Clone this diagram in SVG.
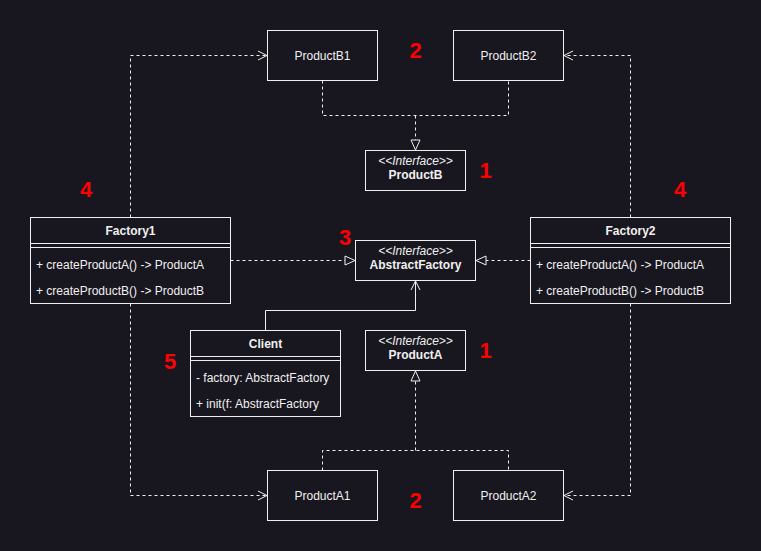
<svg xmlns="http://www.w3.org/2000/svg" width="761" height="551" viewBox="0 0 761 551">
  <defs>
    <style>
      .box { fill: #18161f; stroke: #f0f0f0; stroke-width: 1; }
      .sep { stroke: #f0f0f0; stroke-width: 1; fill: none; }
      .txt { font-family: "Liberation Sans", Arial, sans-serif; font-size: 12px; fill: #f0f0f0; }
      .c { text-anchor: middle; }
      .b { font-weight: bold; }
      .i { font-style: italic; font-size: 12px; }
      .num { font-family: "Liberation Sans", Arial, sans-serif; font-size: 22px; font-weight: bold; fill: #ff0000; text-anchor: middle; }
      .dash { fill: none; stroke: #f0f0f0; stroke-width: 1; stroke-dasharray: 3 3; }
      .solid { fill: none; stroke: #f0f0f0; stroke-width: 1; }
    </style>
    <marker id="tri" viewBox="0 0 12 12" refX="11" refY="6" markerWidth="12" markerHeight="12" markerUnits="userSpaceOnUse" orient="auto">
      <path d="M1,1.5 L11,6 L1,10.5 Z" fill="#18161f" stroke="#f0f0f0" stroke-width="1"/>
    </marker>
    <marker id="open" viewBox="0 0 12 12" refX="11" refY="6" markerWidth="12" markerHeight="12" markerUnits="userSpaceOnUse" orient="auto">
      <path d="M2,1.5 L11,6 L2,10.5" fill="none" stroke="#f0f0f0" stroke-width="1"/>
    </marker>
  </defs>

  <rect x="0" y="0" width="761" height="551" fill="#18161f"/>

  <!-- connectors -->
  <g id="connectors">
    <!-- ProductB1 / ProductB2 realize ProductB -->
    <path class="dash" d="M322.5,80.5 V115.5 H508.5 V80.5"/>
    <path class="dash" d="M415.5,115.5 V150" marker-end="url(#tri)"/>
    <!-- ProductA1 / ProductA2 realize ProductA -->
    <path class="dash" d="M322.5,470.5 V450.5 H508.5 V470.5"/>
    <path class="dash" d="M415.5,450.5 V371" marker-end="url(#tri)"/>
    <!-- factories realize AbstractFactory -->
    <path class="dash" d="M230.5,260.5 H355" marker-end="url(#tri)"/>
    <path class="dash" d="M530.5,260.5 H476" marker-end="url(#tri)"/>
    <!-- Factory1 creates products -->
    <path class="dash" d="M130.5,217.5 V55.5 H267" marker-end="url(#open)"/>
    <path class="dash" d="M130.5,303.5 V495.5 H267" marker-end="url(#open)"/>
    <!-- Factory2 creates products -->
    <path class="dash" d="M630.5,217.5 V55.5 H564" marker-end="url(#open)"/>
    <path class="dash" d="M630.5,303.5 V495.5 H564" marker-end="url(#open)"/>
    <!-- Client uses AbstractFactory -->
    <path class="solid" d="M265.5,330.5 V310.5 H415.5 V281" marker-end="url(#open)"/>
  </g>

  <g id="productB1">
    <rect class="box" x="267.5" y="30.5" width="110" height="50"/>
    <text class="txt c" x="322.5" y="59.5">ProductB1</text>
  </g>
  <g id="productB2">
    <rect class="box" x="453.5" y="30.5" width="110" height="50"/>
    <text class="txt c" x="508.5" y="59.5">ProductB2</text>
  </g>
  <g id="productB">
    <rect class="box" x="365.5" y="150.5" width="100" height="40"/>
    <text class="txt c i" x="415.5" y="165">&lt;&lt;Interface&gt;&gt;</text>
    <text class="txt c b" x="415.5" y="179">ProductB</text>
  </g>

  <g id="factory1">
    <rect class="box" x="30.5" y="217.5" width="200" height="86"/>
    <line class="sep" x1="30.5" y1="243.5" x2="230.5" y2="243.5"/>
    <line class="sep" x1="30.5" y1="247.5" x2="230.5" y2="247.5"/>
    <text class="txt c b" x="130.5" y="235">Factory1</text>
    <text class="txt" x="36" y="269">+ createProductA() -&gt; ProductA</text>
    <text class="txt" x="36" y="295">+ createProductB() -&gt; ProductB</text>
  </g>

  <g id="factory2">
    <rect class="box" x="530.5" y="217.5" width="200" height="86"/>
    <line class="sep" x1="530.5" y1="243.5" x2="730.5" y2="243.5"/>
    <line class="sep" x1="530.5" y1="247.5" x2="730.5" y2="247.5"/>
    <text class="txt c b" x="630.5" y="235">Factory2</text>
    <text class="txt" x="536" y="269">+ createProductA() -&gt; ProductA</text>
    <text class="txt" x="536" y="295">+ createProductB() -&gt; ProductB</text>
  </g>

  <g id="abstractFactory">
    <rect class="box" x="355.5" y="240.5" width="120" height="40"/>
    <text class="txt c i" x="415.5" y="255">&lt;&lt;Interface&gt;&gt;</text>
    <text class="txt c b" x="415.5" y="269">AbstractFactory</text>
  </g>

  <g id="client">
    <rect class="box" x="190.5" y="330.5" width="150" height="86"/>
    <line class="sep" x1="190.5" y1="356.5" x2="340.5" y2="356.5"/>
    <line class="sep" x1="190.5" y1="360.5" x2="340.5" y2="360.5"/>
    <text class="txt c b" x="265.5" y="348">Client</text>
    <text class="txt" x="196" y="382">- factory: AbstractFactory</text>
    <text class="txt" x="196" y="408">+ init(f: AbstractFactory</text>
  </g>

  <g id="productA">
    <rect class="box" x="365.5" y="330.5" width="100" height="40"/>
    <text class="txt c i" x="415.5" y="345">&lt;&lt;Interface&gt;&gt;</text>
    <text class="txt c b" x="415.5" y="359">ProductA</text>
  </g>

  <g id="productA1">
    <rect class="box" x="267.5" y="470.5" width="110" height="50"/>
    <text class="txt c" x="322.5" y="499.5">ProductA1</text>
  </g>
  <g id="productA2">
    <rect class="box" x="453.5" y="470.5" width="110" height="50"/>
    <text class="txt c" x="508.5" y="499.5">ProductA2</text>
  </g>

  <!-- step numbers -->
  <g id="labels">
    <text class="num" x="415.5" y="58">2</text>
    <text class="num" x="485.5" y="178">1</text>
    <text class="num" x="86" y="197">4</text>
    <text class="num" x="680" y="197">4</text>
    <text class="num" x="345" y="245">3</text>
    <text class="num" x="170" y="369">5</text>
    <text class="num" x="485.5" y="358">1</text>
    <text class="num" x="415.5" y="508">2</text>
  </g>
</svg>
